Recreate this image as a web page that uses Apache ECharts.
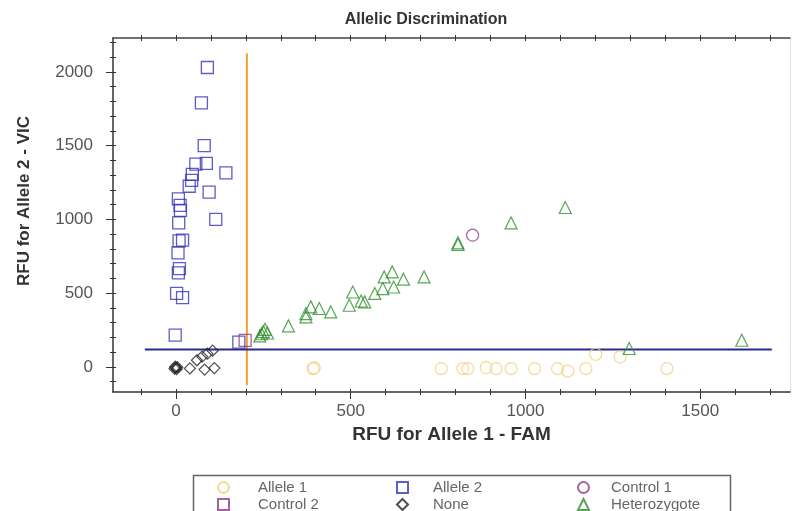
<!DOCTYPE html>
<html>
<head>
<meta charset="utf-8">
<script src="https://cdn.jsdelivr.net/npm/echarts@6/dist/echarts.min.js"></script>
<style>
  html, body { margin: 0; padding: 0; background: #fff; }
  #main { width: 794px; height: 511px; }
</style>
</head>
<body>
<div id="main"></div>
<script>
// scatter data, [FAM, VIC]
var allele1 = [[392, -11], [396, -6], [759, -11], [821, -11], [835, -11], [888, -5], [916, -11],
  [959, -11], [1026, -11], [1092, -11], [1121, -28], [1173, -11], [1201, 86], [1271, 68], [1405, -11]];
var allele2 = [[90, 2030], [73, 1790], [81, 1500], [57, 1375], [87, 1380], [143, 1315], [47, 1305],
  [45, 1265], [38, 1225], [95, 1185], [7, 1140], [12, 1095], [13, 1062], [114, 1000], [8, 976],
  [19, 859], [9, 854], [6, 773], [10, 667], [7, 637], [2, 498], [19, 470], [-2, 215], [180, 168]];
var control1 = [[849, 893]];
var control2 = [[198, 180]];
var noCall = [[0, -5], [-4, -12], [4, -2], [2, -15], [-2, 2], [40, -10], [82, -18], [110, -8],
  [60, 45], [75, 70], [90, 90], [105, 110]];
var hetero = [[240, 210], [250, 240], [255, 255], [245, 225], [262, 230], [322, 278], [372, 339],
  [372, 362], [386, 407], [410, 396], [443, 373], [496, 418], [506, 508], [530, 447], [540, 441],
  [569, 498], [592, 531], [596, 610], [619, 644], [623, 542], [651, 595], [710, 610], [807, 830],
  [807, 841], [959, 976], [1114, 1081], [1297, 125], [1619, 181]];

// threshold lines
var famThreshold = [[203, 2127], [203, -124]];
var vicThreshold = [[-89, 118], [1705, 118]];

// axis ticks
var xLabels = [0, 500, 1000, 1500];
var yLabels = [0, 500, 1000, 1500, 2000];
var xMinor = [-100, 0, 100, 200, 300, 400, 500, 600, 700, 800, 900, 1000, 1100, 1200, 1300, 1400, 1500, 1600, 1700];
var yMinor = [-100, 0, 100, 200, 300, 400, 500, 600, 700, 800, 900, 1000, 1100, 1200, 1300, 1400, 1500,
  1600, 1700, 1800, 1900, 2000, 2100, 2200];

var xMin = -180, xMax = 1757, yMin = -170, yMax = 2230;
var font = 'Liberation Sans, Arial, sans-serif';
var lab = { fontFamily: font, color: '#555', fontSize: 17, formatter: function (v) { return String(v); } };

function tickAxis(pos, min, max, values, len, inside, line) {
  return {
    type: 'value', position: pos, min: min, max: max,
    splitLine: { show: false },
    axisLabel: { show: false },
    axisLine: { show: !!line, onZero: false, lineStyle: { color: line || '#333', width: 1.5 } },
    axisTick: { show: true, customValues: values, inside: inside, length: len, lineStyle: { color: '#333' } }
  };
}

var myChart = echarts.init(document.getElementById('main'));

function scatter(name, data, symbol, size, color, width) {
  return {
    name: name, type: 'scatter', data: data, symbol: symbol, symbolSize: size,
    xAxisIndex: 0, yAxisIndex: 0,
    itemStyle: { color: 'rgba(255,255,255,0)', borderColor: color, borderWidth: width || 1.2 },
    emphasis: { disabled: true }
  };
}

// one legend per item, so the 3x2 grid sits where the original box has it
function legendItem(left, top, name, pad) {
  return {
    left: left, top: top, itemWidth: 11, itemHeight: 11,
    data: [name], selectedMode: false,
    textStyle: { fontFamily: font, fontSize: 15, color: '#666', padding: [0, 0, 0, pad] }
  };
}

myChart.setOption({
  animation: false,
  title: {
    text: 'Allelic Discrimination',
    left: 421, top: 7, textAlign: 'center',
    textStyle: { fontFamily: font, fontSize: 16, fontWeight: 'bold', color: '#333' }
  },
  grid: { left: 113, right: 4, top: 38, bottom: 119 },
  legend: [
    legendItem(212, 475, 'Allele 1', 24),
    legendItem(212, 492, 'Control 2', 24),
    legendItem(391, 475, 'Allele 2', 20),
    legendItem(391, 492, 'None', 20),
    legendItem(572, 475, 'Control 1', 17),
    legendItem(572, 492, 'Heterozygote', 17)
  ],
  graphic: [{
    type: 'rect', left: 191, top: 473, shape: { width: 537, height: 45 },
    style: { fill: 'none', stroke: '#666', lineWidth: 1.5 }, silent: true
  }],
  xAxis: [
    {
      type: 'value', position: 'bottom', min: xMin, max: xMax,
      name: 'RFU for Allele 1 - FAM', nameLocation: 'middle', nameGap: 27,
      nameTextStyle: { fontFamily: font, fontSize: 19, fontWeight: 'bold', color: '#333' },
      splitLine: { show: false },
      axisLine: { onZero: false, lineStyle: { color: '#333', width: 1.5 } },
      axisTick: { customValues: xMinor, length: 3, lineStyle: { color: '#333' } },
      axisLabel: Object.assign({ customValues: xLabels, margin: 11 }, lab)
    },
    tickAxis('bottom', xMin, xMax, xLabels, 7, false),
    tickAxis('bottom', xMin, xMax, xMinor, 3, true),
    tickAxis('top', xMin, xMax, xMinor, 3, true, '#444'),
    tickAxis('top', xMin, xMax, xMinor, 3, false)
  ],
  yAxis: [
    {
      type: 'value', position: 'left', min: yMin, max: yMax,
      name: 'RFU for Allele 2 - VIC', nameLocation: 'middle', nameGap: 80, nameRotate: 90,
      nameTextStyle: { fontFamily: font, fontSize: 17, fontWeight: 'bold', color: '#333', padding: [0, 0, 0, 28] },
      splitLine: { show: false },
      axisLine: { onZero: false, lineStyle: { color: '#333', width: 1.5 } },
      axisTick: { customValues: yMinor, length: 3, lineStyle: { color: '#333' } },
      axisLabel: Object.assign({ customValues: yLabels, margin: 20 }, lab)
    },
    tickAxis('left', yMin, yMax, yLabels, 7, false),
    tickAxis('left', yMin, yMax, yMinor, 3, true),
    {
      type: 'value', position: 'right', min: yMin, max: yMax,
      splitLine: { show: false }, axisLabel: { show: false }, axisTick: { show: false },
      axisLine: { show: true, onZero: false, lineStyle: { color: '#ddd', width: 1 } }
    }
  ],
  series: [
    {
      type: 'line', data: famThreshold, symbol: 'none', silent: true,
      lineStyle: { color: '#f0a030', width: 2 }, z: 1
    },
    {
      type: 'line', data: vicThreshold, symbol: 'none', silent: true,
      lineStyle: { color: '#2a2a90', width: 2 }, z: 1
    },
    scatter('Allele 1', allele1, 'circle', 12, '#f2cf80', 1.2),
    scatter('Allele 2', allele2, 'rect', 12, '#3434b8', 1.3),
    scatter('Control 1', control1, 'circle', 12, '#8a3c8a', 1.2),
    scatter('Control 2', control2, 'rect', 12, '#8a3c8a', 1.3),
    scatter('None', noCall, 'diamond', 11, '#222', 1.2),
    scatter('Heterozygote', hetero, 'triangle', 12, '#2e8f2e', 1.2)
  ]
});
</script>
</body>
</html>
